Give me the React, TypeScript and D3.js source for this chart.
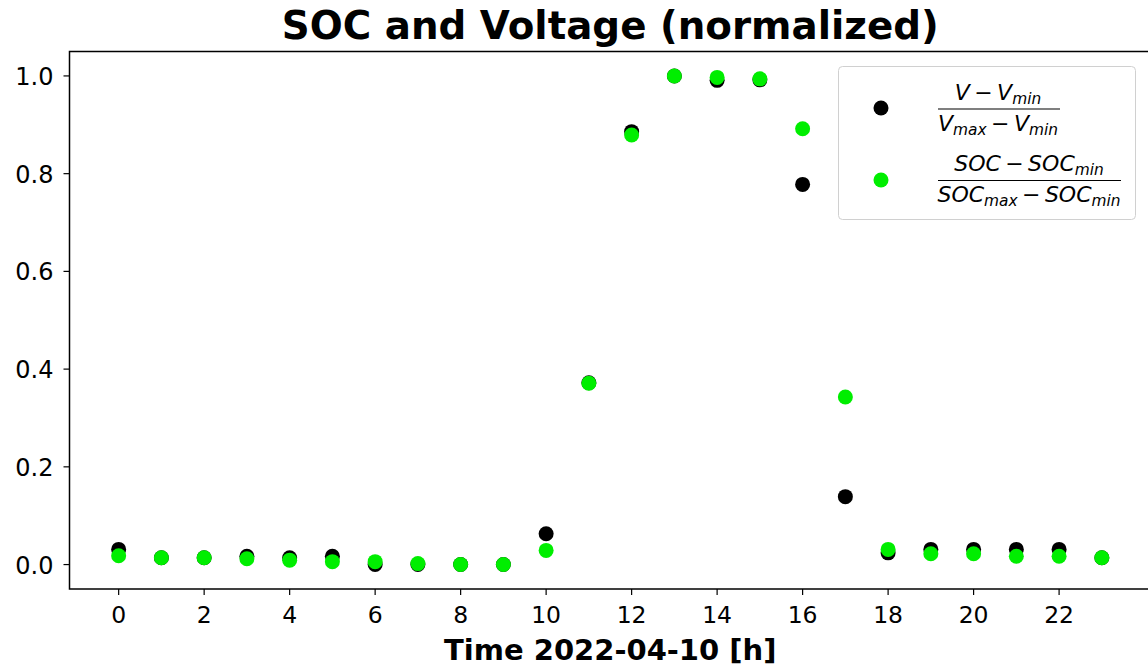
import React from "react";
import * as d3 from "d3";

const hours = [0, 1, 2, 3, 4, 5, 6, 7, 8, 9, 10, 11, 12, 13, 14, 15, 16, 17, 18, 19, 20, 21, 22, 23];
const voltageNorm = [0.031, 0.014, 0.014, 0.017, 0.014, 0.017, 0.0, 0.0, 0.0, 0.0, 0.063, 0.372, 0.886, 1.0, 0.991, 0.992, 0.778, 0.139, 0.024, 0.031, 0.031, 0.031, 0.031, 0.014];
const socNorm = [0.018, 0.014, 0.014, 0.012, 0.009, 0.006, 0.006, 0.002, 0.0, 0.0, 0.029, 0.371, 0.879, 1.0, 0.997, 0.994, 0.892, 0.343, 0.031, 0.022, 0.022, 0.017, 0.017, 0.014];
const xTicks = [0, 2, 4, 6, 8, 10, 12, 14, 16, 18, 20, 22];
const yTicks = [0.0, 0.2, 0.4, 0.6, 0.8, 1.0];
const title = "SOC and Voltage (normalized)";
const xLabel = "Time 2022-04-10 [h]";

const W = 1148;
const H = 670;
const left = 69.5;
const right = 1151;
const top = 51.5;
const bottom = 589;
const FONT = "DejaVu Sans, sans-serif";

type Part = { t: string; sub?: boolean; op?: boolean };

function MathLine({ parts, x, y, size }: { parts: Part[]; x: number; y: number; size: number }) {
  const subSize = size * 0.7;
  const shift = size * 0.2;
  const children: React.ReactNode[] = [];
  let cur = 0;
  parts.forEach((p, i) => {
    const target = p.sub ? shift : 0;
    const dy = target - cur;
    cur = target;
    children.push(
      <tspan
        key={i}
        dy={dy}
        fontSize={p.sub ? subSize : size}
        fontStyle={p.op ? "normal" : "italic"}
      >
        {p.t}
      </tspan>
    );
  });
  return (
    <text x={x} y={y} textAnchor="middle" fontFamily={FONT} fill="#000">
      {children}
    </text>
  );
}

const MINUS = "\u2009\u2212\u2009";

export default function App() {
  const x = d3.scaleLinear().domain([-1.15, 24.15]).range([left, right]);
  const y = d3.scaleLinear().domain([-0.05, 1.05]).range([bottom, top]);
  const r = 7.5;

  return (
    <svg
      width={W}
      height={H}
      style={{ position: "absolute", left: 0, top: 0, background: "#fff" }}
      fontFamily={FONT}
    >
      <rect x={0} y={0} width={W} height={H} fill="#fff" />
      <text x={(left + right) / 2} y={39} textAnchor="middle" fontSize={38.8} fontWeight="bold">
        {title}
      </text>

      {/* points */}
      {hours.map((h, i) => (
        <circle key={"v" + i} cx={x(h)} cy={y(voltageNorm[i])} r={r} fill="#000" />
      ))}
      {hours.map((h, i) => (
        <circle key={"s" + i} cx={x(h)} cy={y(socNorm[i])} r={r} fill="#00ee00" />
      ))}

      {/* spines */}
      <rect x={left} y={top} width={right - left} height={bottom - top} fill="none" stroke="#000" strokeWidth={1.5} />

      {/* x ticks */}
      {xTicks.map((t) => (
        <g key={"xt" + t}>
          <line x1={x(t)} x2={x(t)} y1={bottom} y2={bottom + 6} stroke="#000" strokeWidth={1.2} />
          <text x={x(t)} y={623} textAnchor="middle" fontSize={23.5}>
            {t}
          </text>
        </g>
      ))}
      {/* y ticks */}
      {yTicks.map((t) => (
        <g key={"yt" + t}>
          <line x1={left} x2={left - 6} y1={y(t)} y2={y(t)} stroke="#000" strokeWidth={1.2} />
          <text x={left - 16} y={y(t) + 9} textAnchor="end" fontSize={24}>
            {t.toFixed(1)}
          </text>
        </g>
      ))}

      <text x={(left + right) / 2} y={660} textAnchor="middle" fontSize={29} fontWeight="bold">
        {xLabel}
      </text>

      {/* legend */}
      <rect x={838.5} y={66.5} width={297} height={153} rx={4} fill="#fff" fillOpacity={0.8} stroke="#d0d0d0" strokeWidth={1} />
      <circle cx={881} cy={108} r={r} fill="#000" />
      <circle cx={881} cy={180} r={r} fill="#00ee00" />

      <MathLine
        x={998}
        y={99.5}
        size={22}
        parts={[{ t: "V" }, { t: MINUS, op: true }, { t: "V" }, { t: "min", sub: true }]}
      />
      <line x1={938} x2={1060} y1={109} y2={109} stroke="#000" strokeWidth={1.2} />
      <MathLine
        x={998}
        y={131}
        size={22}
        parts={[{ t: "V" }, { t: "max", sub: true }, { t: MINUS, op: true }, { t: "V" }, { t: "min", sub: true }]}
      />

      <MathLine
        x={1029}
        y={171}
        size={22}
        parts={[{ t: "SOC" }, { t: MINUS, op: true }, { t: "SOC" }, { t: "min", sub: true }]}
      />
      <line x1={938} x2={1121} y1={180.5} y2={180.5} stroke="#000" strokeWidth={1.2} />
      <MathLine
        x={1029}
        y={202}
        size={22}
        parts={[{ t: "SOC" }, { t: "max", sub: true }, { t: MINUS, op: true }, { t: "SOC" }, { t: "min", sub: true }]}
      />
    </svg>
  );
}
